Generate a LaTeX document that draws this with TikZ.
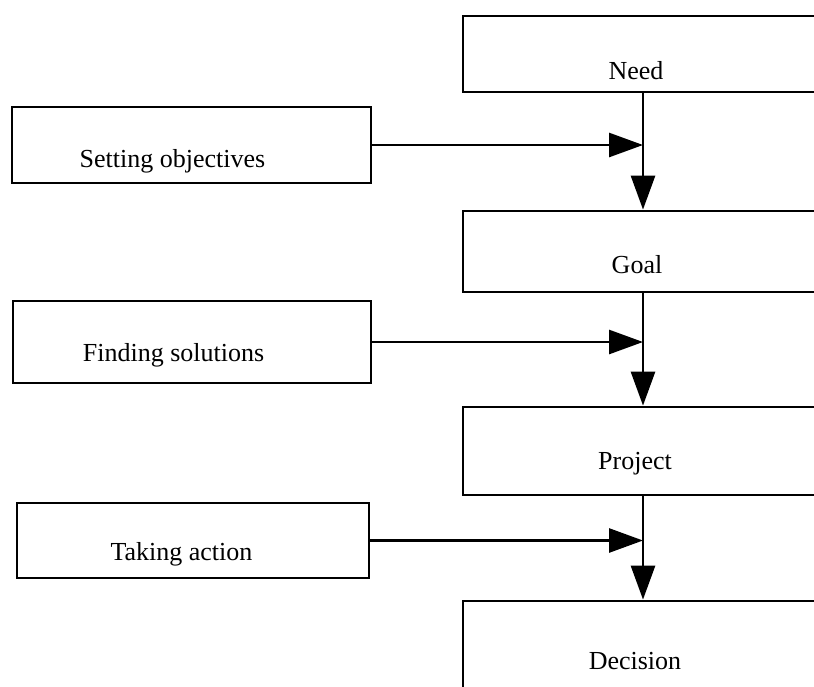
\documentclass[tikz,border=0pt]{standalone}
\usepackage{fontspec}
\setmainfont{Liberation Serif}
\usetikzlibrary{arrows.meta,positioning}

\begin{document}
\begin{tikzpicture}[x=1pt, y=-1pt, line width=2.8pt, rbox/.style={draw, minimum width=360pt, inner sep=0pt}, lbox/.style={draw, inner sep=0pt}, txt/.style={font=\fontsize{26}{30}\selectfont, anchor=base, inner sep=0pt}, arr/.style={-{Triangle[length=34pt,width=24pt]}}]
\useasboundingbox (0,0) rectangle (814,686);
% main column
\node[rbox, minimum height=76pt, label={[txt, xshift=-7pt, yshift=-17pt]center:Need}] (need) at (643,54) {};
\node[rbox, minimum height=81pt, label={[txt, xshift=-6pt, yshift=-13.5pt]center:Goal}] (goal) at (643,251.5) {};
\node[rbox, minimum height=88pt, label={[txt, xshift=-8pt, yshift=-13pt]center:Project}] (project) at (643,451) {};
\node[rbox, minimum height=110pt, label={[txt, xshift=-8pt, yshift=-5pt]center:Decision}] (decision) at (643,656) {};
% side steps
\node[lbox, minimum width=359pt, minimum height=76pt, label={[txt, xshift=-19pt, yshift=-16pt]center:Setting objectives}] (setobj) at (191.5,145) {};
\node[lbox, minimum width=358pt, minimum height=82pt, label={[txt, xshift=-18.5pt, yshift=-13pt]center:Finding solutions}] (findsol) at (192,342) {};
\node[lbox, minimum width=352pt, minimum height=75pt, label={[txt, xshift=-11.5pt, yshift=-13.5pt]center:Taking action}] (takeact) at (193,540.5) {};
\draw[arr] (need) -- (goal);
\draw[arr] (goal) -- (project);
\draw[arr] (project) -- (decision);
\draw[arr] (setobj.east) -- (setobj.east -| need.south);
\draw[arr] (findsol.east) -- (findsol.east -| goal.south);
\draw[arr] (takeact.east) -- (takeact.east -| project.south);
\end{tikzpicture}
\end{document}
